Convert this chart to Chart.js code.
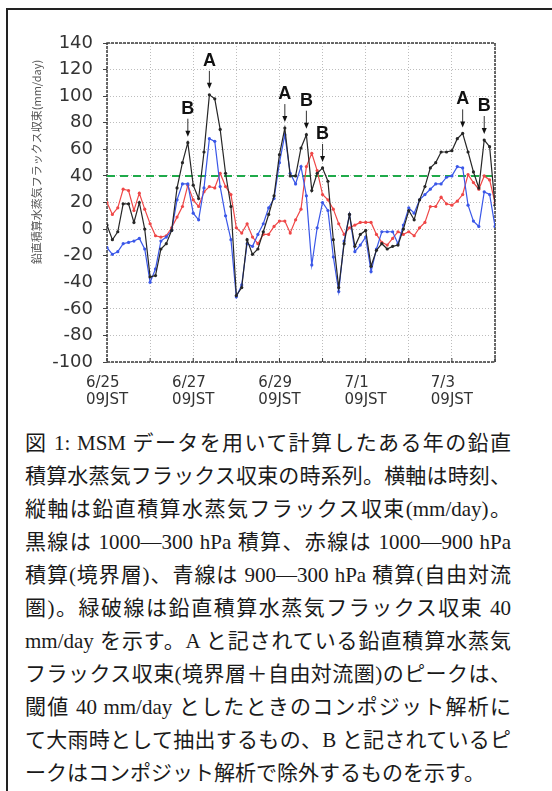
<!DOCTYPE html>
<html>
<head>
<meta charset="utf-8">
<script src="https://cdn.jsdelivr.net/npm/chart.js@4.4.0/dist/chart.umd.min.js"></script>
<style>
  html, body { margin: 0; padding: 0; background: #fff; width: 552px; height: 791px; overflow: hidden; }
  #frame { position: absolute; left: 6px; top: 8px; width: 620px; height: 900px; border: 2px solid #222; box-sizing: border-box; }
  #wrap { position: absolute; left: 0; top: 0; width: 552px; height: 420px; }
  #caption { position: absolute; left: 25px; top: 427px; width: 486px; font-family: "Liberation Serif", "Noto Sans CJK JP", serif; font-size: 21px; line-height: 33px; color: #1a1a1a; }
  #caption div { text-align: justify; text-align-last: justify; }
  #caption div.last { text-align: left; text-align-last: left; }
</style>
</head>
<body>
<div id="frame"></div>
<div id="wrap"><canvas id="c" width="552" height="420"></canvas></div>
<div id="caption">
  <div>図 1: MSM データを用いて計算したある年の鉛直</div>
  <div>積算水蒸気フラックス収束の時系列。横軸は時刻、</div>
  <div>縦軸は鉛直積算水蒸気フラックス収束(mm/day)。</div>
  <div>黒線は 1000—300 hPa 積算、赤線は 1000—900 hPa</div>
  <div>積算(境界層)、青線は 900—300 hPa 積算(自由対流</div>
  <div>圏)。緑破線は鉛直積算水蒸気フラックス収束 40</div>
  <div>mm/day を示す。A と記されている鉛直積算水蒸気</div>
  <div>フラックス収束(境界層＋自由対流圏)のピークは、</div>
  <div>閾値 40 mm/day としたときのコンポジット解析に</div>
  <div>て大雨時として抽出するもの、B と記されているピ</div>
  <div class="last">ークはコンポジット解析で除外するものを示す。</div>
</div>
<script>
// Time axis: hours after 6/25 09JST, one sample every 3 hours through 7/4 09JST
const hours = Array.from({ length: 73 }, (_, i) => i * 3);

// Date labels placed every other day at 09JST
const tickHours = [0, 48, 96, 144, 192];
const tickDates = ['6/25', '6/27', '6/29', '7/1', '7/3'];
const tickTime = '09JST';

// Vertically integrated moisture flux convergence (mm/day)
// 1000-300 hPa total
const total = [
  3, -8, -2, 19, 19, 5, 20, 0,
  -36, -35, -15, -11, -1, 31, 50, 65,
  33, 23, 58, 101, 98, 75, 42, 17,
  -50, -44, -8, -19, -15, -2, 11, 25,
  56, 76, 40, 40, 61, 71, 29, 42,
  46, 36, -8, -44, -11, 11, -13, -4,
  -1, -28, -16, -11, -15, -13, -12, 0,
  14, 7, 22, 32, 46, 50, 58, 58,
  59, 68, 72, 58, 43, 31, 67, 62,
  18
];
// 1000-900 hPa (boundary layer)
const boundary = [
  20, 11, 16, 30, 29, 14, 27, 15,
  4, -5, -6, -5, 1, 9, 17, 33,
  22, 17, 28, 32, 31, 42, 32, 26,
  1, -3, 4, -6, -11, -4, -4, 2,
  6, 6, -3, 7, 15, 47, 57, 44,
  26, 22, 15, 4, -4, 1, 3, 5,
  5, 5, -4, -10, -12, -7, -2, -4,
  -2, -5, 1, 5, 17, 17, 24, 19,
  18, 21, 26, 41, 35, 30, 40, 37,
  20
];
// 900-300 hPa (free troposphere)
const freeTrop = [
  -14, -19, -17, -11, -10, -9, -7, -15,
  -40, -30, -9, -6, -1, 22, 34, 34,
  12, 7, 31, 68, 66, 32, 10, -8,
  -51, -42, -11, -13, -4, 4, 16, 23,
  50, 71, 42, 34, 47, 25, -27, 1,
  20, 14, -21, -47, -9, 11, -17, -12,
  -6, -32, -15, -2, -2, -2, -11, 3,
  16, 12, 22, 26, 30, 34, 34, 39,
  40, 47, 46, 18, 6, 2, 28, 26,
  2
];

// Threshold for heavy-rain composite (mm/day)
const threshold = 40;

// Marked peaks of the total convergence
const peakHours = [45, 57, 99, 111, 120, 198, 210];
const peakMarks = ['B', 'A', 'A', 'B', 'B', 'A', 'B'];

const yTitle = '鉛直積算水蒸気フラックス収束(mm/day)';

const pts = arr => arr.map((v, i) => ({ x: hours[i], y: v }));

const series = (data, color) => ({
  data: pts(data),
  borderColor: color,
  backgroundColor: color,
  borderWidth: 1.2,
  pointRadius: 1.6,
  pointBorderWidth: 0,
  pointHoverRadius: 0,
  tension: 0
});

const decorations = {
  id: 'decorations',
  beforeDatasetsDraw(chart) {
    const { ctx, chartArea: a } = chart;
    ctx.save();
    // plot frame
    ctx.strokeStyle = '#3a3a3a';
    ctx.lineWidth = 1.5;
    ctx.setLineDash([3, 1]);
    ctx.strokeRect(a.left, a.top, a.right - a.left, a.bottom - a.top);
    ctx.setLineDash([]);
    // small day ticks along the bottom axis
    ctx.lineWidth = 1;
    chart.scales.x.ticks.forEach(t => {
      const px = chart.scales.x.getPixelForValue(t.value);
      ctx.beginPath();
      ctx.moveTo(px, a.bottom - 4);
      ctx.lineTo(px, a.bottom);
      ctx.stroke();
    });
    ctx.restore();
  },
  afterDraw(chart) {
    const { ctx, chartArea: a, scales: { x, y } } = chart;
    ctx.save();
    // date labels
    ctx.fillStyle = '#333';
    ctx.font = '15px "DejaVu Sans", sans-serif';
    ctx.textAlign = 'left';
    ctx.textBaseline = 'alphabetic';
    const w = ctx.measureText(tickTime).width;
    tickHours.forEach((h, i) => {
      const px = x.getPixelForValue(h) - w / 2;
      ctx.fillText(tickDates[i], px, a.bottom + 25);
      ctx.fillText(tickTime, px, a.bottom + 42);
    });
    // y axis title
    ctx.save();
    ctx.translate(37, 162);
    ctx.rotate(-Math.PI / 2);
    ctx.font = '11px "Noto Sans CJK JP", sans-serif';
    ctx.fillStyle = '#555';
    ctx.textAlign = 'center';
    ctx.textBaseline = 'middle';
    ctx.fillText(yTitle, 0, 0);
    ctx.restore();
    // peak markers
    ctx.strokeStyle = '#333';
    ctx.fillStyle = '#111';
    ctx.lineWidth = 1;
    peakHours.forEach((h, k) => {
      const idx = hours.indexOf(h);
      const px = x.getPixelForValue(h);
      const py = y.getPixelForValue(total[idx]);
      const tip = py - 6;
      const tail = tip - 18;
      ctx.beginPath();
      ctx.moveTo(px, tail);
      ctx.lineTo(px, tip - 5);
      ctx.stroke();
      ctx.beginPath();
      ctx.moveTo(px - 2.5, tip - 6);
      ctx.lineTo(px + 2.5, tip - 6);
      ctx.lineTo(px, tip);
      ctx.closePath();
      ctx.fill();
      ctx.font = 'bold 18px "Liberation Sans", Arial, sans-serif';
      ctx.textAlign = 'center';
      ctx.textBaseline = 'alphabetic';
      ctx.fillText(peakMarks[k], px, tail - 5);
    });
    ctx.restore();
  }
};

new Chart(document.getElementById('c'), {
  type: 'line',
  data: {
    datasets: [
      series(total, '#262626'),
      series(freeTrop, '#3a57e8'),
      series(boundary, '#ef4747'),
      {
        data: [{ x: hours[0], y: threshold }, { x: hours[hours.length - 1], y: threshold }],
        borderColor: '#1faa4a',
        borderWidth: 2,
        borderDash: [8, 5],
        pointRadius: 0,
        pointHoverRadius: 0
      }
    ]
  },
  options: {
    responsive: false,
    animation: false,
    events: [],
    layout: { padding: { left: 0, top: 43, right: 57, bottom: 0 } },
    plugins: { legend: { display: false }, tooltip: { enabled: false } },
    scales: {
      x: {
        type: 'linear',
        min: 0,
        max: 216,
        afterFit(s) { s.height = 58; },
        ticks: { stepSize: 24, display: false },
        grid: { color: '#bdbdbd', lineWidth: 1, drawTicks: false },
        border: { display: false, dash: [1, 2] }
      },
      y: {
        min: -100,
        max: 140,
        afterFit(s) { s.width = 107; },
        ticks: {
          stepSize: 20,
          color: '#333',
          padding: 10,
          font: { family: '"DejaVu Sans", sans-serif', size: 18 }
        },
        grid: { color: '#bdbdbd', lineWidth: 1, drawTicks: true, tickLength: 4, tickColor: '#444' },
        border: { display: false, dash: [1, 2] }
      }
    }
  },
  plugins: [decorations]
});
</script>
</body>
</html>
